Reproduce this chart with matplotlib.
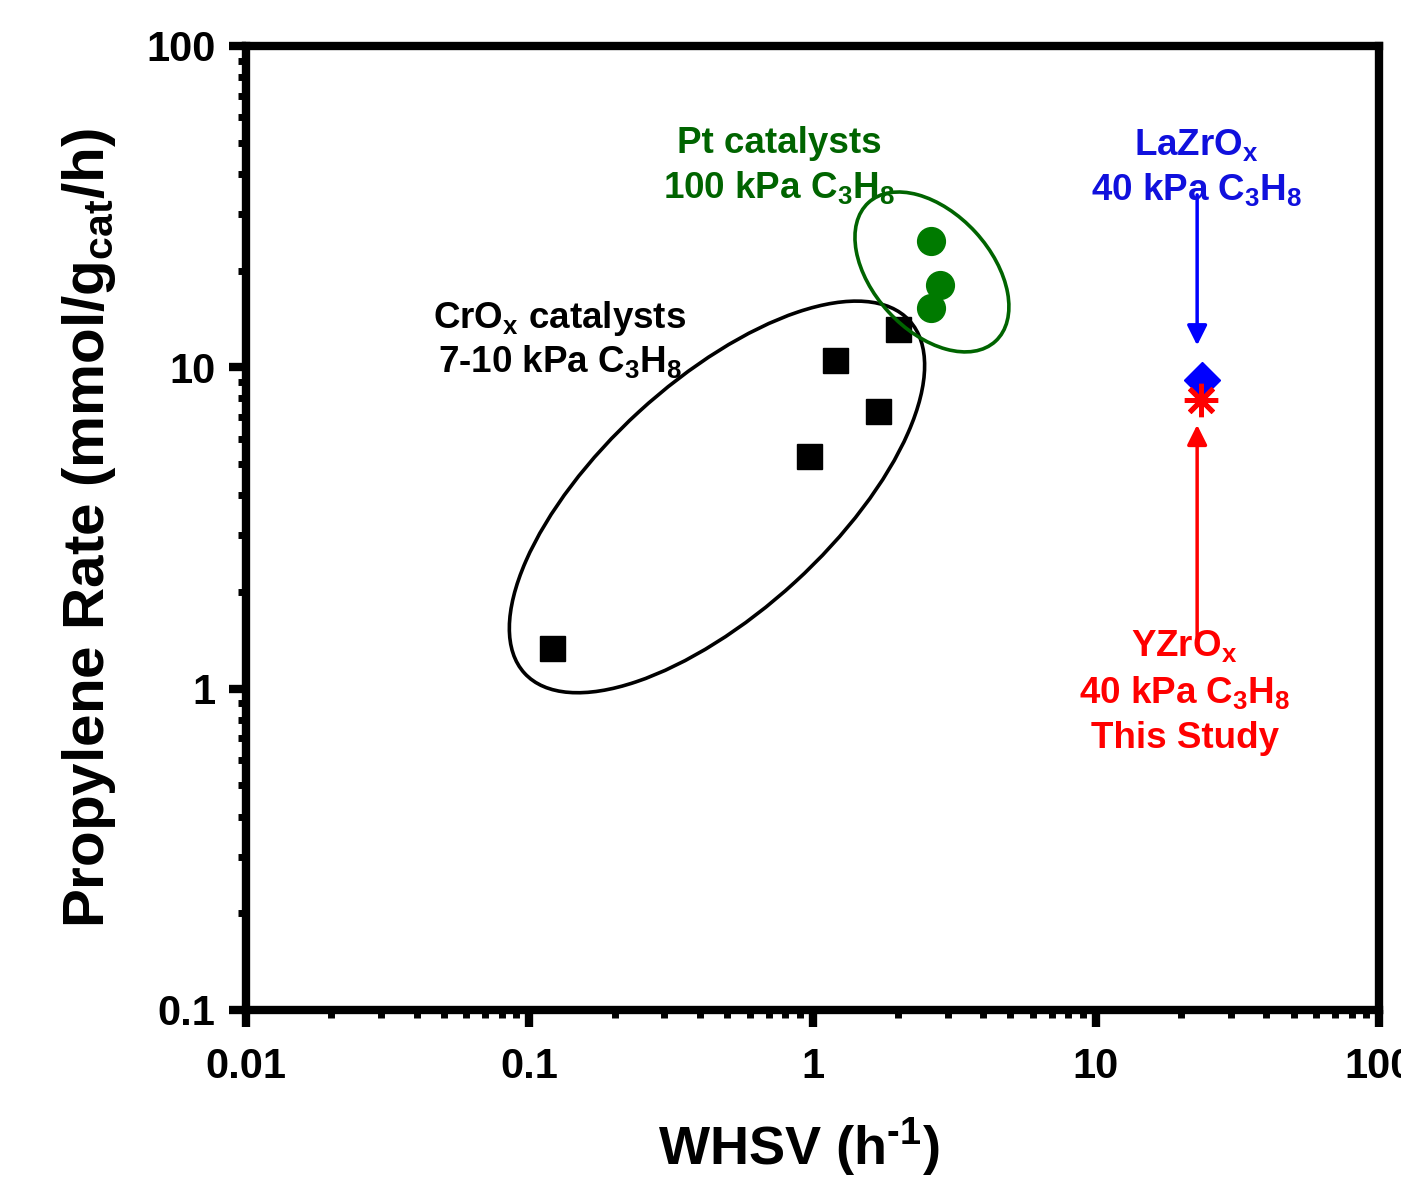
import numpy as np
import matplotlib
matplotlib.use("Agg")
from matplotlib import pyplot as plt
from matplotlib.patches import Ellipse
from matplotlib.transforms import ScaledTranslation
from matplotlib.ticker import LogLocator, NullFormatter, FixedLocator, FixedFormatter

plt.rcParams["font.family"] = "Liberation Sans"
plt.rcParams["font.weight"] = "bold"
plt.rcParams["axes.labelweight"] = "bold"
plt.rcParams["mathtext.fontset"] = "custom"
plt.rcParams["mathtext.rm"] = "Liberation Sans:bold"
plt.rcParams["mathtext.it"] = "Liberation Sans:bold"
plt.rcParams["mathtext.bf"] = "Liberation Sans:bold"

# Data
crox_whsv = [0.12, 0.97, 1.2, 1.7, 2.0]  # CrOx catalysts, 7-10 kPa C3H8
crox_rate = [1.34, 5.3, 10.55, 7.32, 13.2]
pt_whsv = [2.61, 2.81, 2.61]  # Pt catalysts, 100 kPa C3H8
pt_rate = [24.8, 18.05, 15.3]
lazr_whsv = [23.7]  # LaZrOx
lazr_rate = [9.1]
yzr_whsv = [23.6]  # YZrOx, this study
yzr_rate = [7.92]

x_ticks = [0.01, 0.1, 1, 10, 100]
x_tick_labels = ["0.01", "0.1", "1", "10", "100"]
y_ticks = [0.1, 1, 10, 100]
y_tick_labels = ["0.1", "1", "10", "100"]

green = "#007a00"
green_dark = "#006400"
blue_text = "#1010dd"

fig = plt.figure(figsize=(14.01, 11.81), dpi=100)
ax = fig.add_axes([0.1756, 0.1448, 0.8087, 0.8163])
ax.set_xscale("log")
ax.set_yscale("log")
ax.set_xlim(0.01, 100)
ax.set_ylim(0.1, 100)

ax.xaxis.set_major_locator(FixedLocator(x_ticks))
ax.xaxis.set_major_formatter(FixedFormatter(x_tick_labels))
ax.yaxis.set_major_locator(FixedLocator(y_ticks))
ax.yaxis.set_major_formatter(FixedFormatter(y_tick_labels))
for axis in (ax.xaxis, ax.yaxis):
    axis.set_minor_locator(LogLocator(base=10, subs=np.arange(2, 10), numticks=20))
    axis.set_minor_formatter(NullFormatter())

ax.tick_params(which="major", direction="out", length=12, width=6, labelsize=30)
ax.tick_params(axis="x", which="major", pad=15)
ax.tick_params(axis="y", which="major", pad=10)
ax.tick_params(which="minor", direction="out", length=6, width=5)
ax.tick_params(which="both", top=False, right=False)
for s in ax.spines.values():
    s.set_linewidth(6)

ax.set_xlabel(r"WHSV (h$^{\text{-}1}$)", fontsize=39, labelpad=21, x=0.488)
ax.set_ylabel(r"Propylene Rate (mmol/g$_{cat}$/h)", fontsize=42, labelpad=20)

# ellipses drawn in screen units (inches) around a data-space centre
def add_ellipse(cx, cy, w, h, angle, color):
    trans = fig.dpi_scale_trans + ScaledTranslation(cx, cy, ax.transData)
    e = Ellipse((0, 0), w, h, angle=angle, transform=trans, fill=False,
                lw=2.6, ec=color, zorder=4)
    ax.add_patch(e)

add_ellipse(0.46, 3.95, 5.22, 2.31, 42.5, "black")
add_ellipse(2.64, 19.8, 1.88, 1.18, -47.5, green_dark)

ax.plot(crox_whsv, crox_rate, "s", ms=18, mew=1, color="black", ls="none", zorder=3)
ax.plot(pt_whsv, pt_rate, "o", ms=20, mew=1, color=green, ls="none", zorder=3)
ax.plot(lazr_whsv, lazr_rate, "D", ms=18.5, mew=1, color="blue", ls="none", zorder=3)
ax.plot(yzr_whsv, yzr_rate, marker=(8, 2, 0), ms=24, mew=3.6, color="red", ls="none", zorder=3)

# arrows
ax.annotate("", xy=(22.8, 11.7), xytext=(22.8, 34.4),
            arrowprops=dict(arrowstyle="-|>", mutation_scale=30, lw=2.5, color="blue",
                            shrinkA=0, shrinkB=0))
ax.annotate("", xy=(22.8, 6.62), xytext=(22.8, 1.45),
            arrowprops=dict(arrowstyle="-|>", mutation_scale=30, lw=2.5, color="red",
                            shrinkA=0, shrinkB=0))

def label(x, y, s, color):
    ax.text(x, y, s, transform=ax.transAxes, ha="center", va="baseline",
            fontsize=26.5, color=color, zorder=5)

label(0.4704, 0.889, "Pt catalysts", green_dark)
label(0.4704, 0.8423, r"100 kPa C$_3$H$_8$", green_dark)
label(0.2767, 0.7075, r"CrO$_x$ catalysts", "black")
label(0.2771, 0.6618, r"7-10 kPa C$_3$H$_8$", "black")
label(0.8385, 0.887, r"LaZrO$_x$", blue_text)
label(0.8392, 0.8402, r"40 kPa C$_3$H$_8$", blue_text)
label(0.8279, 0.367, r"YZrO$_x$", "red")
label(0.8288, 0.318, r"40 kPa C$_3$H$_8$", "red")
label(0.8288, 0.272, "This Study", "red")

fig.savefig("out.png", dpi=100)
